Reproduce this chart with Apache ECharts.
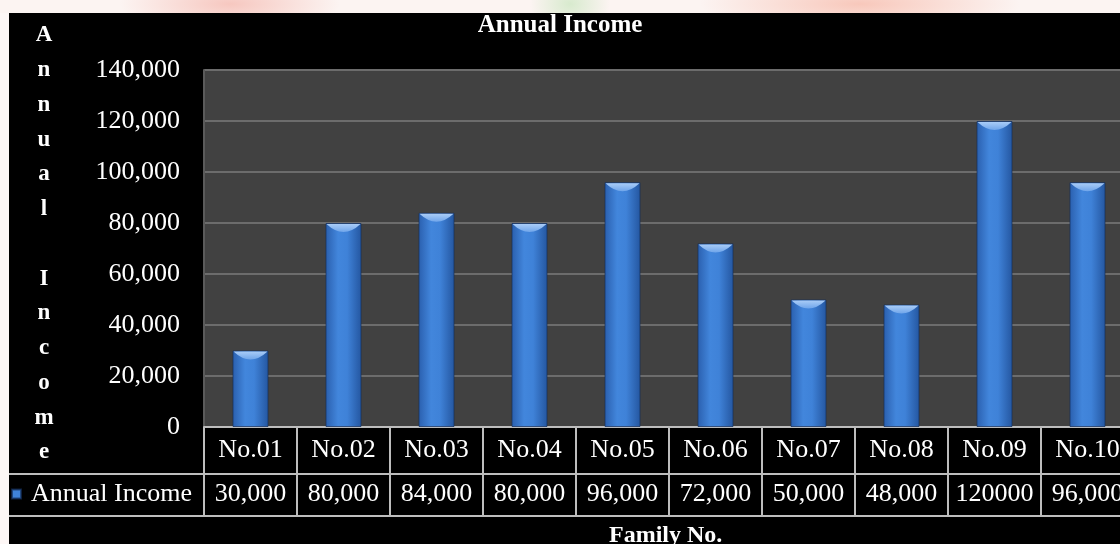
<!DOCTYPE html>
<html><head><meta charset="utf-8">
<script src="https://cdn.jsdelivr.net/npm/echarts@6/dist/echarts.min.js"></script>
<style>
html,body{margin:0;padding:0;width:1120px;height:544px;overflow:hidden;background:#fdf7f6;}
#wm{position:absolute;left:0;top:0;width:1120px;height:13px;
 background:
  radial-gradient(ellipse 110px 30px at 230px 4px, rgba(244,180,170,0.7), rgba(244,180,170,0) 100%),
  radial-gradient(ellipse 40px 30px at 570px 4px, rgba(200,230,190,0.7), rgba(200,230,190,0) 100%),
  radial-gradient(ellipse 160px 30px at 860px 4px, rgba(245,170,150,0.6), rgba(245,170,150,0) 100%),
  #fcf4f2;}
#bg{position:absolute;left:9px;top:13px;width:1111px;height:531px;background:#000;}
#chart{position:absolute;left:0;top:0;width:1120px;height:544px;}
</style></head>
<body><div id="wm"></div><div id="bg"></div><div id="chart"></div>
<script>
const categories = ['No.01','No.02','No.03','No.04','No.05','No.06','No.07','No.08','No.09','No.10'];
const values = [30000, 80000, 84000, 80000, 96000, 72000, 50000, 48000, 120000, 96000];
const tableText = ['30,000','80,000','84,000','80,000','96,000','72,000','50,000','48,000','120000','96,000'];
const seriesName = 'Annual Income';
const yAxisTitle = 'Annual Income';
const xAxisTitle = 'Family No.';

const SERIF = '"Liberation Serif", "DejaVu Serif", serif';
const chart = echarts.init(document.getElementById('chart'), null, {renderer: 'canvas'});

const barGrad = new echarts.graphic.LinearGradient(0, 0, 1, 0, [
  {offset: 0, color: '#2a5fae'},
  {offset: 0.35, color: '#4286dc'},
  {offset: 0.6, color: '#3f82d8'},
  {offset: 1, color: '#2456a0'}
]);
const capGrad = new echarts.graphic.LinearGradient(0, 0, 0, 1, [
  {offset: 0, color: '#a9ccf7'},
  {offset: 1, color: '#6fa5ea'}
]);

chart.setOption({
  animation: false,
  backgroundColor: 'transparent',
  title: [
    {text: 'Annual Income', left: 'center', top: 8,
     textStyle: {color: '#fff', fontFamily: SERIF, fontWeight: 'bold', fontSize: 25}},
    {text: xAxisTitle, left: 604, top: 519,
     textStyle: {color: '#fff', fontFamily: SERIF, fontWeight: 'bold', fontSize: 24}}
  ],
  legend: {
    data: [{name: seriesName, itemStyle: {color: '#3f82d8'}}],
    left: 11, top: 481, padding: 0,
    icon: 'rect', itemWidth: 9, itemHeight: 9,
    textStyle: {color: '#fff', fontFamily: SERIF, fontSize: 26, padding: [0, 0, 0, 5]},
    selectedMode: false
  },
  grid: {left: 204, top: 70, width: 930, height: 357, show: true,
         backgroundColor: '#414141', borderWidth: 0, containLabel: false,
         outerBoundsMode: 'none'},
  xAxis: {
    type: 'category', data: categories,
    axisLine: {show: true, lineStyle: {color: '#bdbdbd', width: 2}},
    axisTick: {show: true, alignWithLabel: false, interval: 0, length: 89,
               lineStyle: {color: '#bdbdbd', width: 2}},
    axisLabel: {
      interval: 0, margin: 0, hideOverlap: false,
      formatter: function (v, i) { return '{c|' + v + '}\n{v|' + tableText[i] + '}'; },
      rich: {
        c: {color: '#fff', fontFamily: SERIF, fontSize: 26, lineHeight: 46, align: 'center'},
        v: {color: '#fff', fontFamily: SERIF, fontSize: 26, lineHeight: 42, align: 'center'}
      }
    }
  },
  yAxis: {
    type: 'value', min: 0, max: 140000, interval: 20000,
    axisLine: {show: true, lineStyle: {color: '#5a5a5a', width: 2}},
    axisTick: {show: false},
    splitLine: {show: true, lineStyle: {color: '#6c6c6c', width: 2}},
    axisLabel: {
      color: '#fff', fontFamily: SERIF, fontSize: 26, margin: 24,
      formatter: function (v) { return v.toLocaleString('en-US'); }
    }
  },
  graphic: [
    {type: 'line', shape: {x1: 9, y1: 474, x2: 1120, y2: 474},
     style: {stroke: '#bdbdbd', lineWidth: 2}, z: 10},
    {type: 'line', shape: {x1: 9, y1: 516, x2: 1120, y2: 516},
     style: {stroke: '#bdbdbd', lineWidth: 2}, z: 10},
    {type: 'text', x: 44, y: 18, z: 10,
     style: {text: yAxisTitle.split('').join('\n'), fill: '#fff',
             font: 'bold 23px ' + SERIF, align: 'center', verticalAlign: 'top',
             textAlign: 'center', textVerticalAlign: 'top', lineHeight: 34.75}}
  ],
  series: [
    {
      name: seriesName, type: 'bar', data: values, barWidth: 36,
      itemStyle: {color: barGrad, borderColor: 'rgba(20,45,90,0.7)', borderWidth: 1},
      z: 2
    },
    {
      name: 'cap', type: 'pictorialBar', data: values,
      symbol: 'path://M0 0 L36 0 Q18 16 0 0 Z',
      symbolSize: [34, 8], symbolPosition: 'end', symbolOffset: [0, 1],
      itemStyle: {color: capGrad}, z: 3, silent: true
    }
  ]
});
</script></body></html>
